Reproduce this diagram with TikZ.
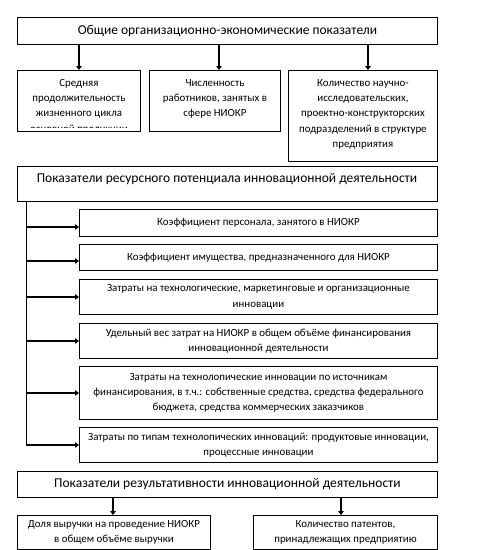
\documentclass[tikz,border=0pt]{standalone}
\usepackage{fontspec}
\setmainfont{Carlito}
\usetikzlibrary{arrows.meta}
\begin{document}
\begin{tikzpicture}[x=1pt,y=-1pt,
  box/.style={draw, line width=0.9pt, inner sep=0pt, anchor=north west, align=center},
  txt/.style={inner sep=0pt, align=center},
  arr/.style={line width=1.7pt, -{Triangle[length=4pt,width=5.5pt]}},
  spine/.style={line width=0.9pt},
  big/.style={font=\fontsize{13.5}{16}\selectfont},
  small/.style={font=\fontsize{10.9}{15.3}\selectfont}]
\useasboundingbox (0,0) rectangle (486,550);

% top level
\node[box, big, minimum width=420pt, minimum height=27pt] (top) at (17,17)
  {Общие организационно-экономические показатели};

\node[box, minimum width=123pt, minimum height=61pt] (b1) at (17,70) {};
\node[box, minimum width=131pt, minimum height=61pt] (b2) at (149,70) {};
\node[box, minimum width=149pt, minimum height=91pt] (b3) at (288,70) {};

\coordinate (cl) at (140,127);
\begin{scope}
  \clip (b1.north west) rectangle (cl);
  \node[txt, small, anchor=north] (t1) at ([yshift=-9pt]b1.north)
    {Средняя\\продолжительность\\жизненного цикла\\основной продукции};
\end{scope}
\node[txt, small, anchor=north] (t2) at ([yshift=-9pt]b2.north)
  {Численность\\работников, занятых в\\сфере НИОКР};
\node[txt, small, anchor=north] (t3) at ([yshift=-9pt]b3.north)
  {Количество научно-\\исследовательских,\\проектно-конструкторских\\подразделений в структуре\\предприятия};

\coordinate (x1) at (79,0);
\coordinate (x2) at (219,0);
\coordinate (x3) at (368,0);
\draw[arr] (top.south -| x1) -- (b1.north -| x1);
\draw[arr] (top.south -| x2) -- (b2.north -| x2);
\draw[arr] (top.south -| x3) -- (b3.north -| x3);

% resource potential
\node[box, minimum width=420pt, minimum height=35pt] (res) at (17,166) {};
\node[txt, big] (rest) at (227,179)
  {Показатели ресурсного потенциала инновационной деятельности};

\node[box, small, minimum width=358pt, minimum height=27pt] (ra) at (79,209)
  {Коэффициент персонала, занятого в НИОКР};
\node[box, small, minimum width=358pt, minimum height=26pt] (rb) at (79,244)
  {Коэффициент имущества, предназначенного для НИОКР};
\node[box, small, minimum width=358pt, minimum height=35pt] (rc) at (79,279)
  {Затраты на технологические, маркетинговые и организационные\\инновации};
\node[box, small, minimum width=358pt, minimum height=35pt] (rd) at (79,323)
  {Удельный вес затрат на НИОКР в общем объёме финансирования\\инновационной деятельности};
\node[box, small, minimum width=358pt, minimum height=53pt] (re) at (79,366)
  {Затраты на технолопические инновации по источникам\\финансирования, в т.ч.: собственные средства, средства федерального\\бюджета, средства коммерческих заказчиков};
\node[box, small, minimum width=358pt, minimum height=35pt] (rf) at (79,427)
  {Затраты по типам технолопических инноваций: продуктовые инновации,\\процессные инновации};

\coordinate (s0) at (26,201);
\coordinate (sa) at (26,227);
\coordinate (sb) at (26,261);
\coordinate (sc) at (26,297);
\coordinate (sd) at (26,341);
\coordinate (se) at (26,393);
\coordinate (sf) at (26,445);
\draw[spine] (s0) -- (sf);
\draw[arr] (sa) -- (sa -| ra.west);
\draw[arr] (sb) -- (sb -| rb.west);
\draw[arr] (sc) -- (sc -| rc.west);
\draw[arr] (sd) -- (sd -| rd.west);
\draw[arr] (se) -- (se -| re.west);
\draw[arr] (sf) -- (sf -| rf.west);

% results
\node[box, big, minimum width=420pt, minimum height=26pt] (rs) at (17,471)
  {Показатели результативности инновационной деятельности};
\node[box, small, minimum width=193pt, minimum height=34pt] (p1) at (17,515)
  {Доля выручки на проведение НИОКР\\в общем объёме выручки};
\node[box, small, minimum width=184pt, minimum height=34pt] (p2) at (253,515)
  {Количество патентов,\\принадлежащих предприятию};
\coordinate (y1) at (113,0);
\coordinate (y2) at (341,0);
\draw[arr] (rs.south -| y1) -- (p1.north -| y1);
\draw[arr] (rs.south -| y2) -- (p2.north -| y2);
\end{tikzpicture}
\end{document}
